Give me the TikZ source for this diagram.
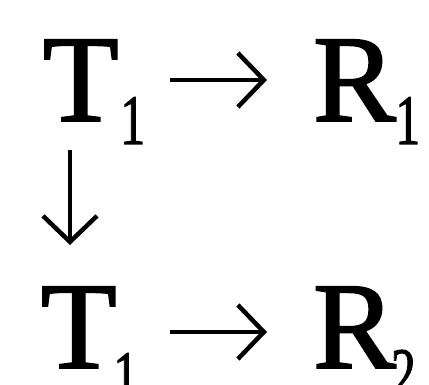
\documentclass[tikz,border=0pt]{standalone}
\usepackage{fontspec}
\setmainfont{Liberation Serif}
\newfontfamily\heavyserif{Liberation Serif}[FakeBold=1.6]
\usetikzlibrary{arrows.meta}
\newcommand{\bigf}{\heavyserif\fontsize{124}{124}\selectfont}
\newcommand{\subf}{\heavyserif\fontsize{71}{71}\selectfont}
\newcommand{\sbx}[3]{\hspace{#1pt}\raisebox{#2pt}{\subf\scalebox{0.7}[1]{#3}}}
\tikzset{
  lbl/.style={inner sep=0pt, outer sep=0pt, anchor=base west, font=\bigf},
  arr/.style={line width=4.5pt, -{Straight Barb[length=26pt,width=54pt,line width=4.5pt]}}
}
\begin{document}
\begin{tikzpicture}[x=1pt,y=1pt]
\useasboundingbox[fill=white] (0,0) rectangle (429,385);
\node[lbl] (T1a) at (43,264) {T\sbx{1.5}{-23}{1}};
\node[lbl] (R1) at (313,264) {R\sbx{-0.4}{-23}{1}};
\node[lbl] (T1b) at (41,17) {T\sbx{-3.5}{-32}{1}};
\node[lbl] (R2) at (313,17) {R\sbx{-4.7}{-29}{2}};
\draw[arr] ([shift={(127,41)}]T1a.base west) -- ([shift={(-46,41)}]R1.base west);
\draw[arr] ([shift={(129,36)}]T1b.base west) -- ([shift={(-46,36)}]R2.base west);
\draw[arr] ([shift={(27,-29)}]T1a.base west) -- ([shift={(29,123)}]T1b.base west);
\end{tikzpicture}
\end{document}
